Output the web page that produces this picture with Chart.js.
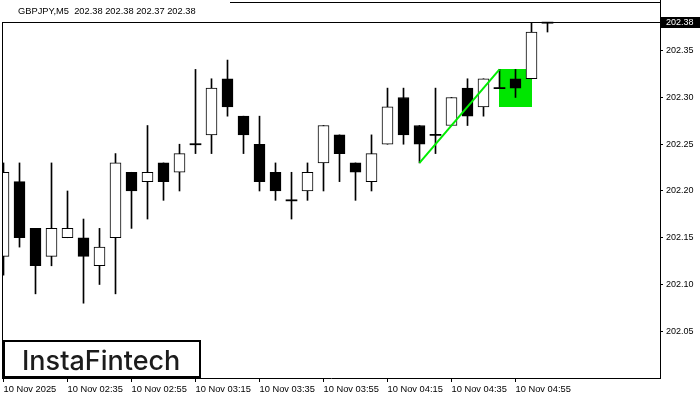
<!DOCTYPE html>
<html>
<head>
<meta charset="utf-8">
<script src="https://cdn.jsdelivr.net/npm/chart.js@4.4.1/dist/chart.umd.min.js"></script>
<style>
  html, body { margin: 0; padding: 0; background: #fff; }
  #wrap { width: 700px; height: 400px; }
</style>
</head>
<body>
<div id="wrap"><canvas id="grafico" width="700" height="400"></canvas></div>
<script>
// GBPJPY M5, one entry per bar (bar 0 = 02:15)
const opens  = [202.13, 202.21, 202.16, 202.13, 202.15, 202.15, 202.12, 202.15, 202.22, 202.21,
                202.23, 202.22, 202.25, 202.26, 202.32, 202.28, 202.25, 202.22, 202.19, 202.20,
                202.23, 202.26, 202.23, 202.21, 202.25, 202.30, 202.27, 202.26, 202.27, 202.31,
                202.29, 202.31, 202.32, 202.32, 202.38];
const highs  = [202.23, 202.23, 202.16, 202.23, 202.20, 202.17, 202.16, 202.24, 202.22, 202.27,
                202.23, 202.25, 202.33, 202.32, 202.34, 202.28, 202.28, 202.23, 202.22, 202.23,
                202.27, 202.26, 202.23, 202.26, 202.31, 202.31, 202.27, 202.31, 202.30, 202.32,
                202.32, 202.33, 202.33, 202.38, 202.38];
const lows   = [202.11, 202.14, 202.09, 202.12, 202.15, 202.08, 202.10, 202.09, 202.16, 202.17,
                202.19, 202.20, 202.24, 202.24, 202.28, 202.24, 202.20, 202.19, 202.17, 202.19,
                202.20, 202.21, 202.19, 202.20, 202.25, 202.25, 202.23, 202.24, 202.27, 202.27,
                202.28, 202.31, 202.30, 202.32, 202.37];
const closes = [202.22, 202.15, 202.12, 202.16, 202.16, 202.13, 202.14, 202.23, 202.20, 202.22,
                202.21, 202.24, 202.25, 202.31, 202.29, 202.26, 202.21, 202.20, 202.19, 202.22,
                202.27, 202.24, 202.22, 202.24, 202.29, 202.26, 202.25, 202.26, 202.30, 202.28,
                202.32, 202.31, 202.31, 202.37, 202.38];

const timeLabels = ['10 Nov 2025', '10 Nov 02:35', '10 Nov 02:55', '10 Nov 03:15', '10 Nov 03:35',
                    '10 Nov 03:55', '10 Nov 04:15', '10 Nov 04:35', '10 Nov 04:55'];
const labelBars  = [0, 4, 8, 12, 16, 20, 24, 28, 32];
const priceTicks = [202.05, 202.10, 202.15, 202.20, 202.25, 202.30, 202.35];

// flag pattern: pole and flag box
const poleBars   = [26, 31];
const polePrices = [202.23, 202.33];
const flagBars   = [31, 33];
const flagPrices = [202.29, 202.33];

const symbol = 'GBPJPY,M5';
const last = opens.length - 1;
const lastPrice = closes[last];

const idx = opens.map((_, i) => i);
const dojiHalf = 0.0006;

const bodies = idx.map(i => opens[i] === closes[i]
  ? { x: i, y: [opens[i] - dojiHalf, opens[i] + dojiHalf] }
  : { x: i, y: [opens[i], closes[i]] });
const wicks = idx.map(i => ({ x: i, y: [lows[i], highs[i]] }));
const pole = poleBars.map((b, k) => ({ x: b, y: polePrices[k] }));

const fontFam = "'Liberation Sans', Arial, sans-serif";

const decor = {
  id: 'decor',
  beforeDatasetsDraw(chart) {
    const { ctx, scales: { x, y } } = chart;
    const x0 = Math.round(x.getPixelForValue(flagBars[0]));
    const x1 = Math.round(x.getPixelForValue(flagBars[1]));
    const y0 = Math.round(y.getPixelForValue(flagPrices[1]));
    const y1 = Math.round(y.getPixelForValue(flagPrices[0]));
    ctx.save();
    ctx.fillStyle = '#00e600';
    ctx.fillRect(x0, y0, x1 - x0, y1 - y0);
    ctx.restore();
  },
  afterDraw(chart) {
    const { ctx, chartArea: a, scales: { y } } = chart;
    ctx.save();
    ctx.strokeStyle = '#000';
    ctx.lineWidth = 1;

    // bid line
    const yb = Math.floor(y.getPixelForValue(lastPrice)) + 0.5;
    ctx.beginPath();
    ctx.moveTo(a.left, yb); ctx.lineTo(a.right, yb);
    // frame pieces
    ctx.moveTo(a.left + 0.5, yb); ctx.lineTo(a.left + 0.5, a.bottom);
    ctx.moveTo(230, a.top + 0.5); ctx.lineTo(a.right, a.top + 0.5);
    ctx.moveTo(a.right + 0.5, 0); ctx.lineTo(a.right + 0.5, a.top);
    ctx.stroke();

    // title
    const ohlc = [opens[last], highs[last], lows[last], closes[last]].map(v => v.toFixed(2)).join(' ');
    ctx.fillStyle = '#000';
    ctx.font = '9.3px ' + fontFam;
    ctx.textBaseline = 'middle';
    ctx.textAlign = 'left';
    ctx.fillText(symbol + '  ' + ohlc, 18, 11);

    // current price tag
    ctx.fillStyle = '#000';
    ctx.fillRect(a.right + 1, yb - 5.5, 700 - a.right - 1, 11);
    ctx.fillStyle = '#fff';
    ctx.font = '9px ' + fontFam;
    ctx.fillText(lastPrice.toFixed(2), a.right + 6, yb + 0.5);

    // logo
    ctx.fillStyle = '#fff';
    ctx.fillRect(4, 341, 196, 36);
    ctx.lineWidth = 2;
    ctx.strokeRect(4, 341, 196, 36);
    ctx.fillStyle = '#1c1c1c';
    ctx.font = "500 27px Inter, 'Noto Sans', sans-serif";
    ctx.textBaseline = 'alphabetic';
    ctx.fillText('InstaFintech', 22, 370, 161);
    ctx.restore();
  }
};

new Chart(document.getElementById('grafico'), {
  type: 'bar',
  data: {
    datasets: [{
      type: 'line',
      data: pole,
      borderColor: '#00ee00',
      borderWidth: 2,
      pointRadius: 0,
      order: 0,
      clip: 0
    }, {
      data: bodies,
      barThickness: 11,
      grouped: false,
      backgroundColor: idx.map(i => closes[i] > opens[i] ? '#fff' : '#000'),
      borderColor: '#000',
      borderWidth: idx.map(i => opens[i] === closes[i] ? 0 : 1),
      borderSkipped: false,
      order: 1,
      clip: 0
    }, {
      data: wicks,
      barThickness: 1,
      grouped: false,
      backgroundColor: '#000',
      borderWidth: 0,
      order: 2,
      clip: 0
    }]
  },
  options: {
    responsive: false,
    animation: false,
    devicePixelRatio: 1,
    layout: { padding: { left: 2, top: 2, right: 0, bottom: 0 } },
    plugins: {
      legend: { display: false },
      tooltip: { enabled: false }
    },
    scales: {
      x: {
        type: 'linear',
        bounds: 'data',
        offset: false,
        min: -0.09375,
        max: 41.03125,
        afterBuildTicks: s => { s.ticks = labelBars.map(v => ({ value: v })); },
        afterFit: s => { s.height = 22; s.paddingLeft = 0; s.paddingRight = 0; },
        ticks: {
          autoSkip: false,
          maxRotation: 0,
          minRotation: 0,
          align: 'start',
          padding: 2,
          color: '#000',
          font: { family: fontFam, size: 9.3 },
          callback: v => timeLabels[labelBars.indexOf(v)]
        },
        grid: { drawOnChartArea: false, tickLength: 4, color: '#000', offset: false },
        border: { display: true, color: '#000', width: 1 }
      },
      y: {
        position: 'right',
        bounds: 'data',
        beginAtZero: false,
        min: 202.0,
        max: 202.4021,
        afterBuildTicks: s => { s.ticks = priceTicks.map(v => ({ value: v })); },
        afterFit: s => { s.width = 40; s.paddingTop = 0; s.paddingBottom = 0; },
        ticks: {
          padding: 3,
          color: '#000',
          font: { family: fontFam, size: 9 },
          callback: v => v.toFixed(2)
        },
        grid: { drawOnChartArea: false, tickLength: 3, color: '#000' },
        border: { display: true, color: '#000', width: 1 }
      }
    }
  },
  plugins: [decor]
});
</script>
</body>
</html>
